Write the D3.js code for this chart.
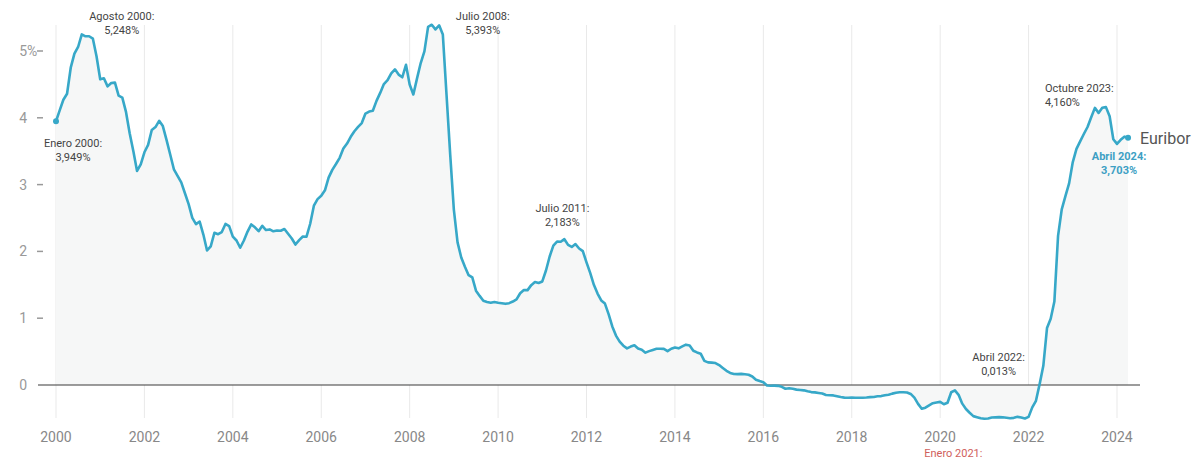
<!DOCTYPE html>
<html>
<head>
<meta charset="utf-8">
<script src="https://cdn.jsdelivr.net/npm/d3@7"></script>
<style>
  body { margin: 0; background: #fff; }
  svg { font-family: Roboto, "Noto Sans", sans-serif; }
</style>
</head>
<body>
<div id="chart"></div>
<script>
// Euribor 12 meses, media mensual, enero 2000 - abril 2024
const startYear = 2000;
const euribor = [
  // 2000
  3.949, 4.110, 4.270, 4.360, 4.750, 4.960, 5.060, 5.248, 5.220, 5.221, 5.186, 4.922,
  // 2001
  4.576, 4.591, 4.471, 4.522, 4.527, 4.331, 4.303, 4.088, 3.768, 3.500, 3.204, 3.302,
  // 2002
  3.484, 3.594, 3.818, 3.861, 3.955, 3.876, 3.670, 3.451, 3.229, 3.130, 3.033, 2.871,
  // 2003
  2.707, 2.502, 2.409, 2.447, 2.252, 2.014, 2.076, 2.279, 2.258, 2.290, 2.411, 2.379,
  // 2004
  2.222, 2.163, 2.055, 2.163, 2.297, 2.404, 2.361, 2.302, 2.383, 2.320, 2.329, 2.301,
  // 2005
  2.312, 2.310, 2.335, 2.265, 2.193, 2.103, 2.168, 2.223, 2.220, 2.414, 2.684, 2.783,
  // 2006
  2.833, 2.914, 3.105, 3.221, 3.308, 3.401, 3.539, 3.615, 3.715, 3.799, 3.864, 3.921,
  // 2007
  4.064, 4.094, 4.106, 4.253, 4.373, 4.505, 4.564, 4.666, 4.725, 4.647, 4.607, 4.793,
  // 2008
  4.498, 4.349, 4.590, 4.820, 4.994, 5.361, 5.393, 5.323, 5.384, 5.248, 4.350, 3.452,
  // 2009
  2.622, 2.135, 1.909, 1.771, 1.644, 1.610, 1.412, 1.334, 1.261, 1.243, 1.231, 1.242,
  // 2010
  1.232, 1.225, 1.215, 1.225, 1.249, 1.281, 1.373, 1.421, 1.420, 1.495, 1.541, 1.526,
  // 2011
  1.550, 1.714, 1.924, 2.086, 2.147, 2.144, 2.183, 2.097, 2.067, 2.110, 2.044, 2.004,
  // 2012
  1.837, 1.678, 1.499, 1.368, 1.266, 1.219, 1.061, 0.877, 0.740, 0.650, 0.588, 0.549,
  // 2013
  0.575, 0.594, 0.545, 0.528, 0.484, 0.507, 0.525, 0.542, 0.543, 0.541, 0.506, 0.543,
  // 2014
  0.562, 0.549, 0.577, 0.604, 0.592, 0.513, 0.488, 0.469, 0.362, 0.338, 0.335, 0.329,
  // 2015
  0.298, 0.255, 0.212, 0.180, 0.165, 0.163, 0.167, 0.161, 0.154, 0.128, 0.079, 0.059,
  // 2016
  0.042, -0.008, -0.012, -0.010, -0.013, -0.028, -0.056, -0.048, -0.057, -0.069, -0.074, -0.080,
  // 2017
  -0.095, -0.106, -0.110, -0.119, -0.127, -0.149, -0.154, -0.156, -0.168, -0.180, -0.189, -0.190,
  // 2018
  -0.189, -0.191, -0.191, -0.190, -0.188, -0.181, -0.180, -0.169, -0.166, -0.154, -0.147, -0.129,
  // 2019
  -0.116, -0.108, -0.109, -0.112, -0.134, -0.190, -0.283, -0.356, -0.339, -0.304, -0.272, -0.261,
  // 2020
  -0.253, -0.288, -0.266, -0.108, -0.081, -0.147, -0.279, -0.359, -0.415, -0.466, -0.481, -0.497,
  // 2021
  -0.505, -0.501, -0.487, -0.484, -0.481, -0.484, -0.491, -0.498, -0.492, -0.477, -0.487, -0.502,
  // 2022
  -0.477, -0.335, -0.237, 0.013, 0.287, 0.852, 0.992, 1.249, 2.233, 2.629, 2.828, 3.018,
  // 2023
  3.337, 3.534, 3.647, 3.757, 3.862, 4.007, 4.149, 4.073, 4.149, 4.160, 4.022, 3.679,
  // 2024
  3.609, 3.671, 3.718, 3.703
];

const xTicks = d3.range(2000, 2025, 2);
const yTicks = [0, 1, 2, 3, 4, 5];

// annotations: month index, label, offset of text from the point
const notes = [
  { i: 0,   title: "Enero 2000:",   value: "3,949%", dx: 17,  dy: 26,  anchor: "middle", color: "#444" },
  { i: 7,   title: "Agosto 2000:",  value: "5,248%", dx: 40,  dy: -14, anchor: "middle", color: "#444" },
  { i: 102, title: "Julio 2008:",   value: "5,393%", dx: 51,  dy: -5,  anchor: "middle", color: "#444" },
  { i: 138, title: "Julio 2011:",   value: "2,183%", dx: -2,  dy: -27, anchor: "middle", color: "#444" },
  { i: 267, title: "Abril 2022:",   value: "0,013%", dx: -41, dy: -23, anchor: "middle", color: "#444" },
  { i: 285, title: "Octubre 2023:", value: "4,160%", dx: -61, dy: -15, anchor: "start",  color: "#444" },
  { i: 291, title: "Abril 2024:",   value: "3,703%", dx: -9,  dy: 22,  anchor: "middle", color: "#3d9fc4", bold: true },
  { i: 252, title: "Enero 2021:",   value: "",       dx: -31, dy: 38,  anchor: "middle", color: "#d0605c" }
];

const width = 1200, height = 459;

const data = euribor.map((v, i) => ({ t: startYear + i / 12, v }));

const x = d3.scaleLinear().domain([2000, 2024]).range([56, 1117]);
const y = d3.scaleLinear().domain([0, 5]).range([385, 51]);

const svg = d3.select("#chart")
  .append("svg")
  .attr("width", width)
  .attr("height", height);

// vertical grid
svg.append("g")
  .selectAll("line")
  .data(xTicks)
  .join("line")
    .attr("x1", d => x(d))
    .attr("x2", d => x(d))
    .attr("y1", 25)
    .attr("y2", 418)
    .attr("stroke", "#e9e9e9")
    .attr("stroke-width", 1);

// area under the line
svg.append("path")
  .datum(data)
  .attr("fill", "#f6f7f7")
  .attr("d", d3.area()
    .x(d => x(d.t))
    .y0(y(0))
    .y1(d => y(d.v)));

// zero line
svg.append("line")
  .attr("x1", 38)
  .attr("x2", 1140)
  .attr("y1", y(0))
  .attr("y2", y(0))
  .attr("stroke", "#3a3a3a")
  .attr("stroke-width", 1.2);

// y axis
const yAxis = svg.append("g");
yAxis.selectAll("line")
  .data(yTicks.filter(d => d > 0))
  .join("line")
    .attr("x1", 37)
    .attr("x2", 43)
    .attr("y1", d => y(d))
    .attr("y2", d => y(d))
    .attr("stroke", "#999")
    .attr("stroke-width", 1.5);
yAxis.selectAll("text")
  .data(yTicks)
  .join("text")
    .attr("x", 27)
    .attr("y", d => y(d) + 5)
    .attr("text-anchor", "end")
    .attr("fill", "#999")
    .attr("font-size", 14)
    .text(d => d);
yAxis.append("text")
  .attr("x", 27)
  .attr("y", y(5) + 5)
  .attr("fill", "#999")
  .attr("font-size", 14)
  .text("%");

// x axis labels
svg.append("g")
  .selectAll("text")
  .data(xTicks)
  .join("text")
    .attr("x", d => x(d))
    .attr("y", 442)
    .attr("text-anchor", "middle")
    .attr("fill", "#888")
    .attr("font-size", 14)
    .text(d => d);

// line
svg.append("path")
  .datum(data)
  .attr("fill", "none")
  .attr("stroke", "#37a8c8")
  .attr("stroke-width", 2.6)
  .attr("stroke-linejoin", "round")
  .attr("d", d3.line()
    .x(d => x(d.t))
    .y(d => y(d.v)));

// end markers
svg.append("g")
  .selectAll("circle")
  .data([data[0], data[data.length - 1]])
  .join("circle")
    .attr("cx", d => x(d.t))
    .attr("cy", d => y(d.v))
    .attr("r", 3)
    .attr("fill", "#37a8c8");

svg.append("text")
  .attr("x", x(data[data.length - 1].t) + 12)
  .attr("y", y(data[data.length - 1].v) + 6)
  .attr("fill", "#555")
  .attr("font-size", 16)
  .text("Euribor");

// annotations
const ann = svg.append("g")
  .selectAll("text")
  .data(notes)
  .join("text")
    .attr("x", d => x(startYear + d.i / 12) + d.dx)
    .attr("y", d => y(euribor[d.i]) + d.dy)
    .attr("text-anchor", d => d.anchor)
    .attr("fill", d => d.color)
    .attr("font-weight", d => d.bold ? "bold" : "normal")
    .attr("font-size", 11);
ann.append("tspan")
  .text(d => d.title);
ann.append("tspan")
  .attr("x", d => x(startYear + d.i / 12) + d.dx)
  .attr("dy", 14)
  .text(d => d.value);
</script>
</body>
</html>
